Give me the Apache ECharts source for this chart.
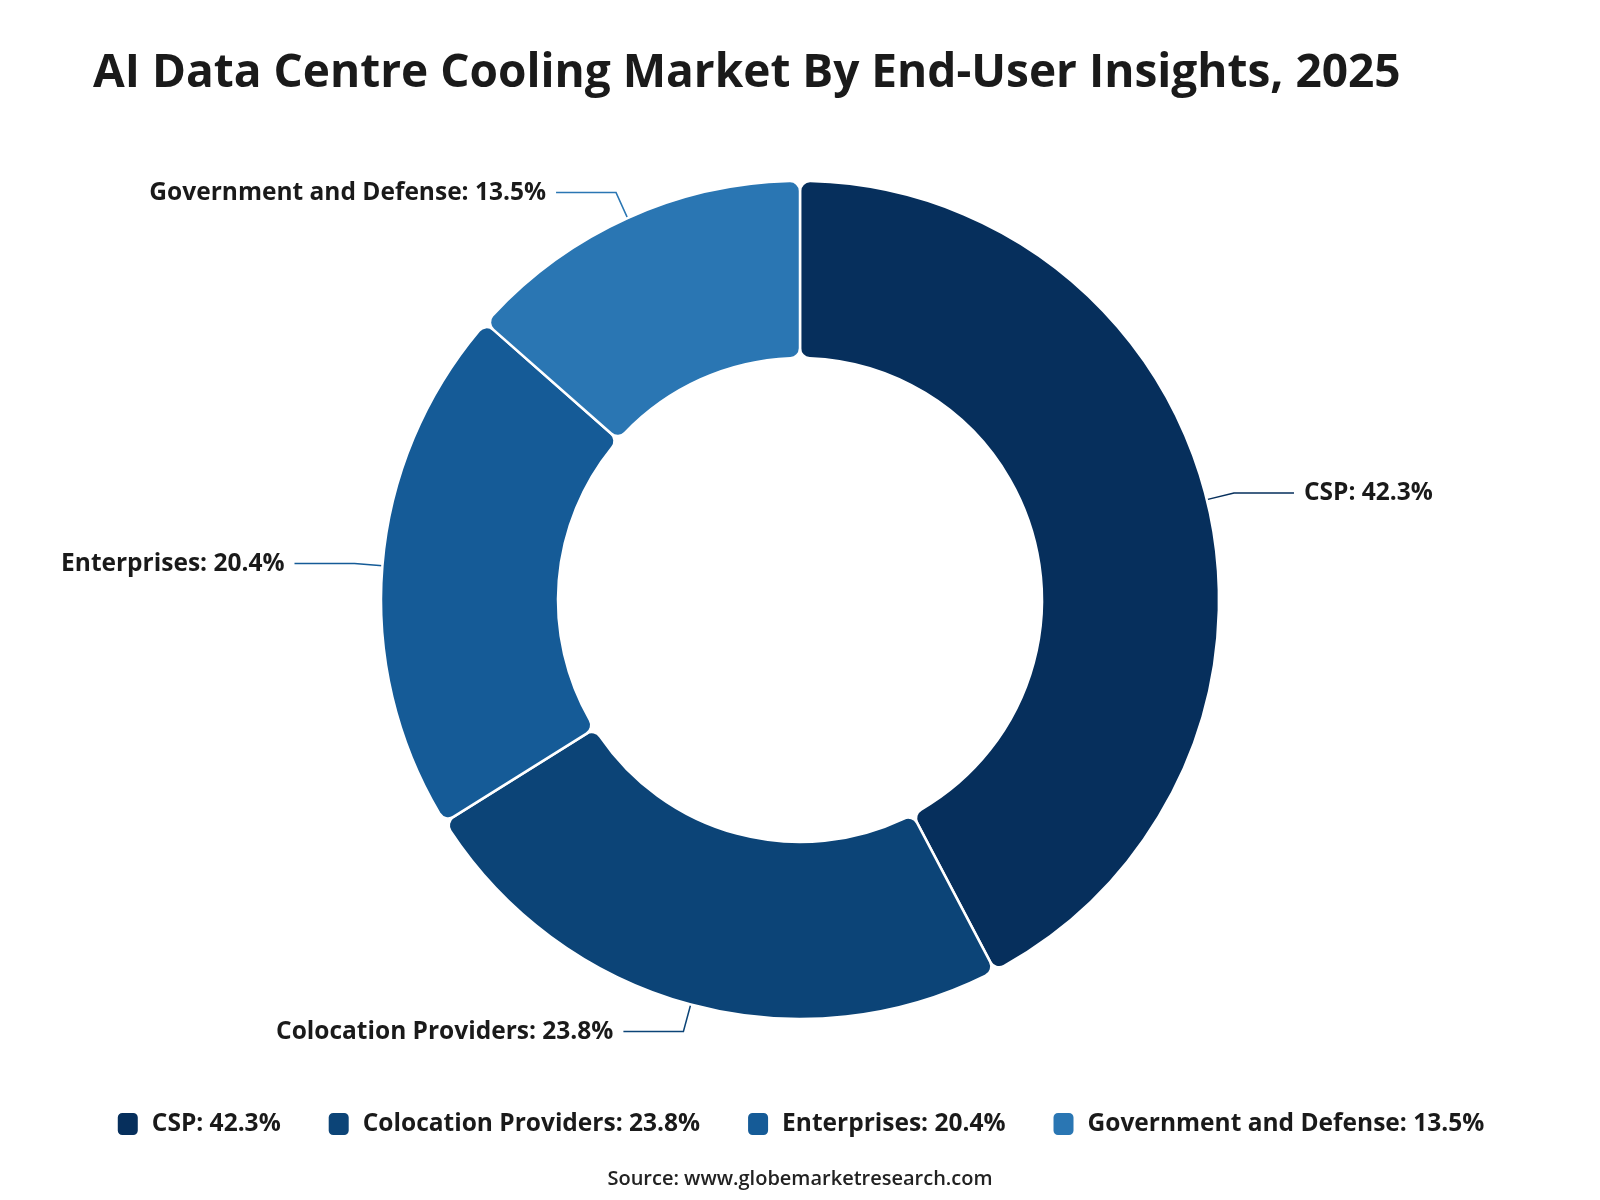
<!DOCTYPE html>
<html>
<head>
<meta charset="utf-8">
<script src="https://cdn.jsdelivr.net/npm/echarts@6/dist/echarts.min.js"></script>
<style>
    * { margin: 0; padding: 0; }
    body { background: #fff; }
</style>
</head>
<body>
<!-- chart container -->
<div id="coolingPie" style="width: 1600px;height: 1200px;"></div>
<script>
    var titleText = 'AI Data Centre Cooling Market By End-User Insights, 2025';
    var sourceText = 'Source: www.globemarketresearch.com';
    var segments = ['CSP', 'Colocation Providers', 'Enterprises', 'Government and Defense'];
    var shares = [42.3, 23.8, 20.4, 13.5];
    var colors = ['#062f5c', '#0c4477', '#155b97', '#2a76b3'];

    var pieData = segments.map(function (name, i) {
        return { name: name, value: shares[i] };
    });

    var chart = echarts.init(document.getElementById('coolingPie'));
    chart.setOption({
        color: colors,
        textStyle: { fontFamily: 'Open Sans' },
        title: [
            {
                text: titleText,
                left: 88,
                top: 46,
                textStyle: { fontSize: 46, fontWeight: 'bold', color: '#1a1a1a', fontFamily: 'Open Sans' }
            },
            {
                text: sourceText,
                left: 'center',
                top: 1164,
                textStyle: { fontSize: 20, fontWeight: 600, color: '#222', fontFamily: 'Open Sans' }
            }
        ],
        legend: {
            bottom: 58,
            left: 'center',
            icon: 'roundRect',
            itemWidth: 22,
            itemHeight: 24,
            itemGap: 46,
            formatter: function (name) {
                return name + ': ' + shares[segments.indexOf(name)] + '%';
            },
            textStyle: {
                fontSize: 24.5, fontWeight: 'bold', color: '#1a1a1a', fontFamily: 'Open Sans',
                padding: [0, 0, 0, 8]
            }
        },
        series: [
            {
                type: 'pie',
                center: [800, 600],
                radius: [242, 419],
                startAngle: 90,
                clockwise: true,
                data: pieData,
                itemStyle: {
                    borderColor: '#fff',
                    borderWidth: 2.5,
                    borderRadius: 10
                },
                label: {
                    formatter: '{b}: {c}%',
                    fontSize: 24.5,
                    fontWeight: 'bold',
                    color: '#1a1a1a',
                    fontFamily: 'Open Sans',
                    distanceToLabelLine: 10
                },
                labelLine: {
                    length: 28,
                    length2: 60,
                    lineStyle: { width: 1.5 }
                },
                emphasis: { scale: false }
            }
        ]
    });
</script>
</body>
</html>
